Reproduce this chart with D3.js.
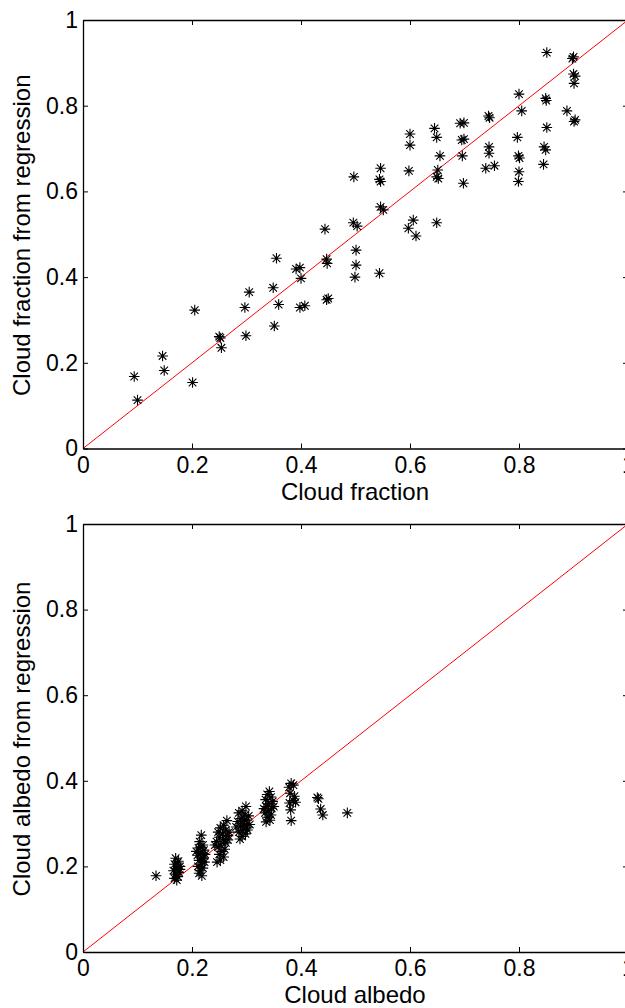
<!DOCTYPE html>
<html><head><meta charset="utf-8">
<script src="https://cdn.jsdelivr.net/npm/d3@7"></script>
<style>
html,body{margin:0;padding:0;background:#fff;overflow:hidden}
text{font-family:"Liberation Sans",Arial,Helvetica,sans-serif;fill:#000}
</style></head><body>
<svg id="c" width="625" height="1008"></svg>
<script>
const tickValues = [0, 0.2, 0.4, 0.6, 0.8, 1];
const tickLabels = ["0", "0.2", "0.4", "0.6", "0.8", "1"];

const fracX = [0.094,0.100,0.146,0.149,0.201,0.205,0.250,0.252,0.254,0.299,0.297,0.305,0.351,0.349,0.355,0.359,0.391,0.398,0.400,0.398,0.407,0.444,0.447,0.448,0.447,0.450,0.496,0.503,0.501,0.501,0.499,0.544,0.597,0.606,0.611,0.649,0.497,0.546,0.544,0.546,0.546,0.551,0.598,0.600,0.600,0.645,0.649,0.655,0.651,0.649,0.652,0.692,0.699,0.695,0.699,0.696,0.698,0.744,0.746,0.745,0.745,0.739,0.755,0.800,0.805,0.797,0.799,0.801,0.800,0.799,0.851,0.849,0.850,0.851,0.846,0.849,0.845,0.888,0.900,0.898,0.900,0.903,0.901,0.903,0.901];
const fracY = [0.168,0.113,0.216,0.182,0.154,0.323,0.261,0.258,0.235,0.263,0.329,0.365,0.286,0.375,0.444,0.336,0.419,0.422,0.397,0.329,0.333,0.512,0.442,0.432,0.347,0.350,0.527,0.519,0.463,0.428,0.400,0.409,0.514,0.533,0.496,0.527,0.634,0.654,0.628,0.623,0.564,0.557,0.648,0.734,0.708,0.747,0.726,0.683,0.650,0.634,0.630,0.759,0.760,0.720,0.722,0.683,0.619,0.776,0.772,0.704,0.689,0.654,0.660,0.827,0.788,0.726,0.683,0.678,0.646,0.623,0.924,0.817,0.812,0.749,0.704,0.697,0.663,0.788,0.914,0.910,0.874,0.869,0.852,0.767,0.763];

const albX = [0.134,
 0.170,0.175,0.168,0.178,0.172,0.166,0.176,0.170,0.174,0.168,0.178,0.173,0.172,
 0.217,0.214,0.220,0.212,0.222,0.216,0.210,0.219,0.213,0.223,0.217,0.211,0.220,0.215,0.213,0.218,0.224,0.208,0.216,0.221,
 0.264,0.258,0.252,0.262,0.248,0.256,0.266,0.250,0.258,0.245,0.262,0.253,0.248,0.260,0.255,0.250,0.258,0.252,0.246,0.266,0.242,0.268,
 0.299,0.292,0.286,0.297,0.304,0.290,0.300,0.284,0.295,0.306,0.289,0.300,0.293,0.286,0.298,0.292,0.288,0.302,0.281,0.296,
 0.342,0.338,0.345,0.335,0.348,0.340,0.336,0.346,0.341,0.334,0.345,0.338,0.343,0.336,0.350,0.332,
 0.382,0.386,0.378,0.380,0.388,0.386,0.379,0.381,0.382,0.390,
 0.430,0.432,0.436,0.440,0.485];
const albY = [0.178,
 0.219,0.212,0.205,0.200,0.195,0.190,0.186,0.182,0.176,0.172,0.193,0.208,0.168,
 0.273,0.258,0.250,0.243,0.238,0.232,0.226,0.220,0.214,0.210,0.205,0.200,0.196,0.190,0.184,0.178,0.228,0.235,0.245,0.218,
 0.307,0.296,0.290,0.285,0.280,0.276,0.272,0.268,0.262,0.258,0.255,0.250,0.245,0.240,0.235,0.228,0.222,0.215,0.210,0.262,0.250,0.280,
 0.340,0.330,0.325,0.320,0.318,0.312,0.308,0.305,0.300,0.298,0.294,0.290,0.284,0.280,0.276,0.270,0.264,0.285,0.292,0.310,
 0.375,0.368,0.362,0.356,0.352,0.346,0.340,0.336,0.330,0.325,0.320,0.315,0.308,0.304,0.340,0.335,
 0.394,0.390,0.385,0.371,0.364,0.354,0.348,0.332,0.307,0.350,
 0.361,0.358,0.334,0.320,0.325];

const panels = [
  {xs: fracX, ys: fracY, top: 20, bottom: 448.5, xlabel: "Cloud fraction", ylabel: "Cloud fraction from regression"},
  {xs: albX, ys: albY, top: 524, bottom: 952, xlabel: "Cloud albedo", ylabel: "Cloud albedo from regression"}
];

const svg = d3.select("#c");
const left = 83, right = 628;
const fmt = d => tickLabels[tickValues.indexOf(d)];

panels.forEach(p => {
  const x = d3.scaleLinear().domain([0, 1]).range([left, right]);
  const y = d3.scaleLinear().domain([0, 1]).range([p.bottom, p.top]);
  const g = svg.append("g");

  const cid = "clip" + p.top;
  svg.append("clipPath").attr("id", cid).append("rect")
    .attr("x", left).attr("y", p.top).attr("width", right - left).attr("height", p.bottom - p.top);
  g.append("line").attr("clip-path", `url(#${cid})`)
    .attr("x1", x(0)).attr("y1", y(0)).attr("x2", x(1)).attr("y2", y(1))
    .attr("stroke", "#ff0000").attr("stroke-width", 1);

  const pts = p.xs.map((v, i) => [v, p.ys[i]]);
  const r = 5.3, d = 3.8;
  const star = `M${-r},0L${r},0M0,${-r}L0,${r}M${-d},${-d}L${d},${d}M${-d},${d}L${d},${-d}`;
  g.append("g").selectAll("path").data(pts).join("path")
    .attr("transform", q => `translate(${x(q[0])},${y(q[1])})`)
    .attr("d", star).attr("stroke", "#000").attr("stroke-width", 1.1).attr("fill", "none");

  const styleAxis = (sel, labels) => {
    sel.select(".domain").attr("stroke", "#000").attr("stroke-width", 1.3);
    sel.selectAll(".tick line").attr("stroke", "#000").attr("stroke-width", 1);
    sel.selectAll(".tick text").style("font-size", "23px").attr("fill", "#000");
    if (!labels) sel.selectAll(".tick text").remove();
  };
  const xb = g.append("g").attr("transform", `translate(0,${p.bottom})`)
    .call(d3.axisBottom(x).tickValues(tickValues).tickFormat(fmt).tickSizeInner(-5).tickSizeOuter(0).tickPadding(8));
  styleAxis(xb, true);
  xb.selectAll(".tick text").attr("dy", "0.71em").attr("y", 8);
  const xt = g.append("g").attr("transform", `translate(0,${p.top})`)
    .call(d3.axisTop(x).tickValues(tickValues).tickSizeInner(-5).tickSizeOuter(0));
  styleAxis(xt, false);
  const yl = g.append("g").attr("transform", `translate(${left},0)`)
    .call(d3.axisLeft(y).tickValues(tickValues).tickFormat(fmt).tickSizeInner(-5).tickSizeOuter(0).tickPadding(6));
  styleAxis(yl, true);
  yl.selectAll(".tick text").attr("x", -5);
  const yr = g.append("g").attr("transform", `translate(${right},0)`)
    .call(d3.axisRight(y).tickValues(tickValues).tickSizeInner(-5).tickSizeOuter(0));
  styleAxis(yr, false);

  g.append("text").attr("x", 355).attr("y", p.bottom + 51)
    .attr("text-anchor", "middle").style("font-size", "24px").text(p.xlabel);
  g.append("text").attr("transform", `translate(30,${(p.top + p.bottom) / 2 + 1}) rotate(-90)`)
    .attr("text-anchor", "middle").style("font-size", "24px").text(p.ylabel);
});
</script>
</body></html>
